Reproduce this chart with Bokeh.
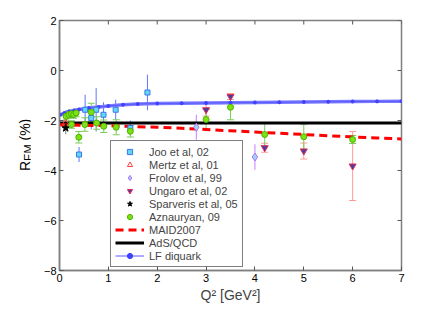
from bokeh.plotting import figure
from bokeh.models import (Range1d, FixedTicker, Legend, LegendItem,
                          Whisker, TeeHead, ColumnDataSource, Div)
from bokeh.layouts import row
from bokeh.embed import file_html
from bokeh.resources import INLINE

FONT = "Liberation Sans"

# ---------------- data ----------------
joo_q2 = [0.40, 0.525, 0.65, 0.75, 0.90, 1.15, 1.45, 1.80]
joo_rem = [-3.36, -1.57, -1.90, -1.57, -1.77, -1.57, -2.30, -0.88]
joo_err = [0.30, 0.60, 0.45, 0.87, 0.50, 0.40, 0.30, 0.71]

mertz_q2 = [0.127]
mertz_rem = [-2.10]
mertz_err = [0.20]

frolov_q2 = [2.8, 4.0]
frolov_rem = [-2.27, -3.46]
frolov_err = [0.50, 0.51]

ungaro_q2 = [3.0, 3.5, 4.2, 5.0, 6.0]
ungaro_rem = [-1.57, -1.04, -3.09, -3.22, -3.82]
ungaro_err = [0.25, 0.12, 0.18, 0.32, 1.38]

sparveris_q2 = [0.127]
sparveris_rem = [-2.30]
sparveris_err = [0.25]

azn_q2 = [0.135, 0.19, 0.245, 0.29, 0.34, 0.245, 0.395, 0.52, 0.65, 0.76,
          0.906, 1.16, 1.45, 3.0, 3.5, 4.2, 5.0, 6.0]
azn_rem = [-1.83, -1.76, -1.73, -1.76, -1.70, -2.16, -2.67, -2.16, -1.67, -2.10,
           -2.23, -2.27, -2.43, -1.96, -1.47, -2.56, -2.65, -2.76]
azn_err = [0.15, 0.15, 0.15, 0.15, 0.15, 0.15, 0.23, 0.27, 0.36, 0.25,
           0.25, 0.30, 0.23, 0.40, 0.50, 0.45, 0.50, 0.16]

maid_q2 = [0, 0.5, 1, 1.5, 2, 2.5, 3, 3.5, 4, 4.5, 5, 5.5, 6, 6.5, 7]
maid_rem = [-2.17, -2.19, -2.21, -2.24, -2.27, -2.31, -2.36, -2.41, -2.46,
            -2.51, -2.56, -2.61, -2.66, -2.70, -2.74]

ads_q2 = [0, 7]
ads_rem = [-2.10, -2.10]

lf_q2 = [0.02, 0.1, 0.2, 0.3, 0.4, 0.6, 0.8, 1.0, 1.3, 1.6, 2.0, 2.5, 3.0,
         3.5, 4.0, 4.5, 5.0, 5.5, 6.0, 6.5, 7.0]
lf_rem = [-1.77, -1.70, -1.64, -1.60, -1.56, -1.50, -1.46, -1.42, -1.37, -1.34,
          -1.32, -1.31, -1.30, -1.29, -1.28, -1.27, -1.26, -1.25, -1.24, -1.235, -1.23]

x_ticks = [0, 1, 2, 3, 4, 5, 6, 7]
y_ticks = [-8, -6, -4, -2, 0, 2]

X0, X1, Y0, Y1 = 0, 7, -8, 2
FW, FH = 342, 250
LABEL_W = 30

# ---------------- figure ----------------
p = figure(frame_width=FW, frame_height=FH, output_backend="svg",
           toolbar_location=None, x_range=Range1d(X0, X1), y_range=Range1d(Y0, Y1),
           min_border_left=59 - LABEL_W, min_border_right=22, min_border_top=20,
           min_border_bottom=32)
p.background_fill_color = "white"
p.border_fill_color = "white"
p.outline_line_color = "#7f7f7f"
p.outline_line_width = 1.5
p.xgrid.visible = False
p.ygrid.visible = False

for ax, ticks in [(p.xaxis[0], x_ticks), (p.yaxis[0], y_ticks)]:
    ax.ticker = FixedTicker(ticks=ticks)
    ax.major_tick_in = 4
    ax.major_tick_out = 0
    ax.minor_tick_line_color = None
    ax.axis_line_color = "#7f7f7f"
    ax.axis_line_width = 1.5
    ax.major_tick_line_color = "#555555"
    ax.major_label_text_font = FONT
    ax.major_label_text_color = "black"
    ax.major_label_text_font_size = "11px"
    ax.major_label_standoff = 3

p.xaxis[0].axis_label = "Q² [GeV²]"
p.xaxis[0].axis_label_text_font = FONT
p.xaxis[0].axis_label_text_font_style = "normal"
p.xaxis[0].axis_label_text_font_size = "14px"
p.xaxis[0].axis_label_standoff = 2

# inward ticks on the top and right edges of the box
tick_dy = 4 * (Y1 - Y0) / FH
tick_dx = 4 * (X1 - X0) / FW
p.segment(x0=x_ticks, y0=[Y1] * len(x_ticks), x1=x_ticks,
          y1=[Y1 - tick_dy] * len(x_ticks), line_color="#555555", line_width=1)
p.segment(x0=[X1] * len(y_ticks), y0=y_ticks, x1=[X1 - tick_dx] * len(y_ticks),
          y1=y_ticks, line_color="#555555", line_width=1)

# ---------------- curves ----------------
r_ads = p.line(ads_q2, ads_rem, line_color="black", line_width=3)
r_maid = p.line(maid_q2, maid_rem, line_color="#ff0000", line_width=3, line_dash="8 5")
p.line(lf_q2, lf_rem, line_color="#7b7bff", line_width=3.5)
r_lf_line = p.line(lf_q2, lf_rem, line_color="#5a5aff", line_width=1)
r_lf_dot = p.scatter(lf_q2, lf_rem, marker="circle", size=3, fill_color="#4040ff",
                     line_color="#4040ff")

# ---------------- error bars ----------------
def errbar(xs, ys, es, color, caps):
    src = ColumnDataSource(dict(x=xs, lo=[y - e for y, e in zip(ys, es)],
                                hi=[y + e for y, e in zip(ys, es)]))
    if caps:
        w = Whisker(source=src, base="x", lower="lo", upper="hi", line_color=color,
                    line_width=1,
                    upper_head=TeeHead(size=7, line_color=color, line_width=1),
                    lower_head=TeeHead(size=7, line_color=color, line_width=1))
    else:
        w = Whisker(source=src, base="x", lower="lo", upper="hi", line_color=color,
                    line_width=1, upper_head=None, lower_head=None)
    p.add_layout(w)

errbar(joo_q2, joo_rem, joo_err, "#5b78ff", False)
errbar(mertz_q2, mertz_rem, mertz_err, "#ff7070", False)
errbar(frolov_q2, frolov_rem, frolov_err, "#c97cff", False)
errbar(ungaro_q2, ungaro_rem, ungaro_err, "#ff9a9a", True)
errbar(sparveris_q2, sparveris_rem, sparveris_err, "#808080", False)
errbar(azn_q2, azn_rem, azn_err, "#7acc5a", True)

# ---------------- points ----------------
r_joo = p.scatter(joo_q2, joo_rem, marker="square", size=5, fill_color="#62d6f5",
                  line_color="#3a78e8", line_width=1)
r_mertz = p.scatter(mertz_q2, mertz_rem, marker="triangle", size=7, fill_color=None,
                    line_color="#ff4040", line_width=1)
r_frolov = p.scatter(frolov_q2, frolov_rem, marker="diamond", size=8,
                     fill_color="#9fd6f5", line_color="#b070ff", line_width=1)
r_ungaro = p.scatter(ungaro_q2, ungaro_rem, marker="inverted_triangle", size=7,
                     fill_color="#4a3aa8", line_color="#e83050", line_width=1)
r_sparv = p.scatter(sparveris_q2, sparveris_rem, marker="star", size=8,
                    fill_color="black", line_color="black")
r_azn = p.scatter(azn_q2, azn_rem, marker="circle", size=6, fill_color="#7ce214",
                  line_color="#4cb000", line_width=1)

# ---------------- legend ----------------
legend = Legend(items=[
    LegendItem(label="Joo et al, 02", renderers=[r_joo]),
    LegendItem(label="Mertz et al, 01", renderers=[r_mertz]),
    LegendItem(label="Frolov et al, 99", renderers=[r_frolov]),
    LegendItem(label="Ungaro et al, 02", renderers=[r_ungaro]),
    LegendItem(label="Sparveris et al, 05", renderers=[r_sparv]),
    LegendItem(label="Aznauryan, 09", renderers=[r_azn]),
    LegendItem(label="MAID2007", renderers=[r_maid]),
    LegendItem(label="AdS/QCD", renderers=[r_ads]),
    LegendItem(label="LF diquark", renderers=[r_lf_line, r_lf_dot]),
], location=(51, 3))
legend.label_text_font = FONT
legend.label_text_font_size = "11px"
legend.label_height = 13
legend.glyph_height = 13
legend.glyph_width = 29
legend.label_standoff = 5
legend.spacing = 0
legend.padding = 4
legend.margin = 0
legend.border_line_color = "black"
legend.border_line_width = 1
legend.background_fill_color = "white"
legend.background_fill_alpha = 1
p.add_layout(legend, "center")

# ---------------- y axis label: R_EM (%) (rotated HTML text) ----------------
ylabel_html = (
    '<div style="position:relative; width:%dpx; height:302px;">'
    '<div style="position:absolute; left:18px; top:171px; transform:rotate(-90deg); '
    'transform-origin:0 0; white-space:nowrap; font-family:\'Liberation Sans\'; '
    'font-size:14px; line-height:14px; color:black;">'
    'R<span style="font-size:11px; position:relative; top:2px;">EM</span> (%%)'
    '</div></div>' % LABEL_W
)
ylabel = Div(text=ylabel_html, width=LABEL_W, height=302, margin=0)

layout = row(ylabel, p, spacing=0)

open("out.html", "w").write(file_html(layout, INLINE))
